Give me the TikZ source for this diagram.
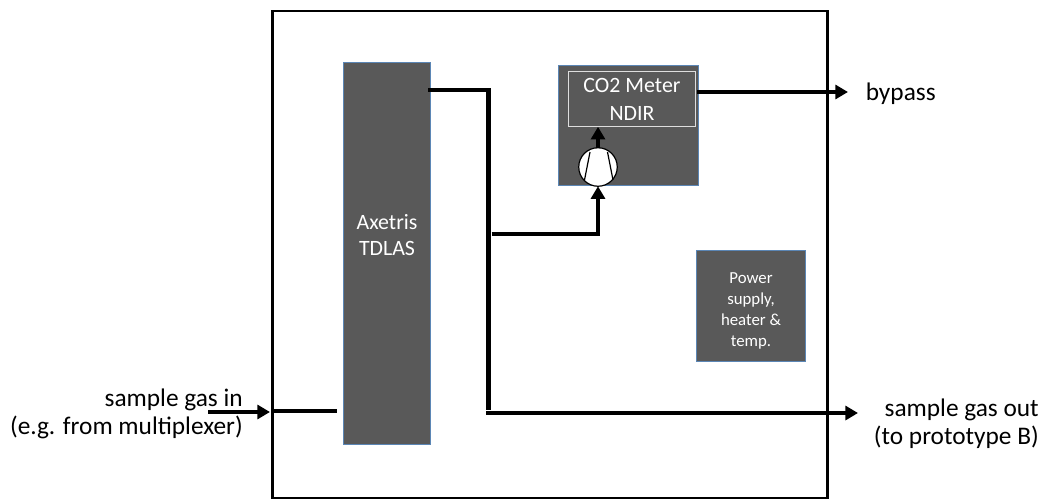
\documentclass[tikz,border=0pt]{standalone}
\usepackage{fontspec}
\setmainfont{Carlito}
\usetikzlibrary{arrows.meta}
\definecolor{boxgrey}{HTML}{595959}
\definecolor{boxedge}{HTML}{5B86B5}
\tikzset{
  x=0.75pt,y=-0.75pt,
  block/.style={draw=boxedge,line width=0.75pt,fill=boxgrey,text=white,inner sep=0pt,outer sep=0pt,align=center,anchor=north west},
  pipe/.style={line width=3.4pt,black},
  flow/.style={pipe,-{Triangle[length=9.5pt,width=10.5pt]}},
  lbl/.style={inner sep=0pt,align=right,font=\fontsize{19pt}{21pt}\selectfont},
  bigwhite/.style={text=white,align=center,inner sep=0pt,font=\fontsize{16.4pt}{20pt}\selectfont},
}
\begin{document}
\begin{tikzpicture}
\useasboundingbox (0,0) rectangle (1048,500);
\node[draw=black,line width=2pt,outer sep=0pt,minimum width=555*0.75pt,minimum height=487*0.75pt,inner sep=0pt,anchor=north west] (case) at (272.7,11) {};
\node[block,minimum width=87*0.75pt,minimum height=382*0.75pt] (tdlas) at (343.5,62) {};
\node[bigwhite] (tdlastext) at (387,235) {Axetris\\TDLAS};
\node[block,minimum width=139.5*0.75pt,minimum height=120*0.75pt] (co2) at (558.5,65) {};
\node[draw=white!80!boxgrey,line width=0.9pt,outer sep=0pt,inner sep=0pt,anchor=north west,minimum width=126.5*0.75pt,minimum height=55*0.75pt] (ndir) at (568.8,71.8) {};
\node[bigwhite,font=\fontsize{16.4pt}{21pt}\selectfont] (ndirtext) at (632,99.5) {CO2 Meter\\NDIR};
\node[draw=black,line width=0.9pt,fill=white,circle,minimum size=38.5*0.75pt,inner sep=0pt,outer sep=0pt] (pump) at (598,167) {};
\draw[line width=0.9pt] (590,152) -- (584.5,180);
\draw[line width=0.9pt] (607.5,152) -- (613,180);
\node[block,minimum width=109*0.75pt,minimum height=111.5*0.75pt] (power) at (696.7,250) {};
\node[text=white,align=center,inner sep=0pt,font=\fontsize{12.6pt}{15.6pt}\selectfont] (powertext) at (751,311) {Power\\supply,\\heater \&\\temp.};

\node[lbl,anchor=west] (bypass) at (865.5,94) {bypass};
\node[lbl,anchor=east] (in) at (243,414) {sample gas in\\(e.g. from multiplexer)};
\node[lbl,anchor=east] (out) at (1039,424) {sample gas out\\(to prototype B)};

\coordinate (insrc) at (208,412);
\coordinate (intip) at (270,412);
\coordinate (instart) at (274,411);
\coordinate (inend) at (337,411);
\coordinate (t1) at (428,90);
\coordinate (t2) at (488.7,90);
\coordinate (t3) at (488.7,410);
\coordinate (o1) at (486,413);
\coordinate (otip) at (858,413);
\coordinate (b1) at (491.7,234);
\coordinate (b2) at (598,234);
\coordinate (bysrc) at (697,92);
\coordinate (bytip) at (848,92);

\draw[flow] (insrc) -- (intip);
\draw[pipe] (instart) -- (inend);
\draw[pipe] (t1) -- (t2) -- (t3);
\draw[flow] (o1) -- (otip);
\draw[flow] (b1) -- (b2) -- (pump.south);
\draw[flow] (pump.north) -- (ndir.south -| pump.north);
\draw[flow] (bysrc) -- (bytip);
\end{tikzpicture}
\end{document}
